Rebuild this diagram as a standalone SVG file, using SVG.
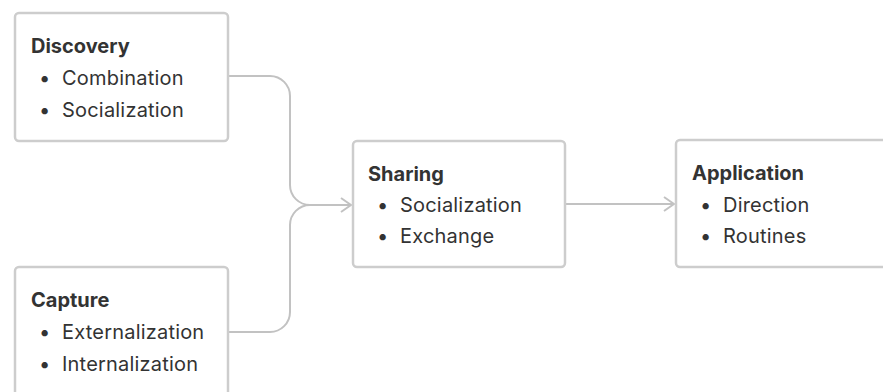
<svg xmlns="http://www.w3.org/2000/svg" width="883" height="392" viewBox="0 0 883 392">
  <defs>
    <style>
      .box { fill: #ffffff; stroke: #cdcdcd; stroke-width: 2.5; }
      .title { font-family: Inter, "Noto Sans", "Liberation Sans", sans-serif; font-size: 20px; font-weight: 700; fill: #333333; }
      .item { font-family: Inter, "Noto Sans", "Liberation Sans", sans-serif; font-size: 20px; letter-spacing: 0.2px; fill: #333333; }
      .edge { fill: none; stroke: #c2c2c2; stroke-width: 2; }
    </style>
    <marker id="arrow" viewBox="0 0 12 16" refX="11" refY="8" markerWidth="12" markerHeight="16" markerUnits="userSpaceOnUse" orient="auto">
      <path d="M1,1 L11,8 L1,15" fill="none" stroke="#c2c2c2" stroke-width="2"/>
    </marker>
  </defs>

  <g id="connectors">
    <path class="edge" d="M229,76 H270 A20,20 0 0 1 290,96 V185 A20,20 0 0 0 310,205 H351" marker-end="url(#arrow)"/>
    <path class="edge" d="M229,332 H270 A20,20 0 0 0 290,312 V225 A20,20 0 0 1 310,205"/>
    <path class="edge" d="M566,204 H674" marker-end="url(#arrow)"/>
  </g>

  <g id="discovery">
    <rect class="box" x="15" y="13" width="213" height="128" rx="4"/>
    <text class="title" x="31" y="53">Discovery</text>
    <text class="item" x="39" y="85">•</text>
    <text class="item" x="62" y="85">Combination</text>
    <text class="item" x="39" y="117">•</text>
    <text class="item" x="62" y="117">Socialization</text>
  </g>

  <g id="capture">
    <rect class="box" x="15" y="267" width="213" height="140" rx="4"/>
    <text class="title" x="31" y="307">Capture</text>
    <text class="item" x="39" y="339">•</text>
    <text class="item" x="62" y="339">Externalization</text>
    <text class="item" x="39" y="371">•</text>
    <text class="item" x="62" y="371">Internalization</text>
  </g>

  <g id="sharing">
    <rect class="box" x="353" y="141" width="212" height="126" rx="4"/>
    <text class="title" x="368" y="181">Sharing</text>
    <text class="item" x="377" y="212">•</text>
    <text class="item" x="400" y="212">Socialization</text>
    <text class="item" x="377" y="243">•</text>
    <text class="item" x="400" y="243">Exchange</text>
  </g>

  <g id="application">
    <rect class="box" x="676" y="140" width="230" height="127" rx="4"/>
    <text class="title" x="692" y="180">Application</text>
    <text class="item" x="700" y="212">•</text>
    <text class="item" x="723" y="212">Direction</text>
    <text class="item" x="700" y="243">•</text>
    <text class="item" x="723" y="243">Routines</text>
  </g>
</svg>
